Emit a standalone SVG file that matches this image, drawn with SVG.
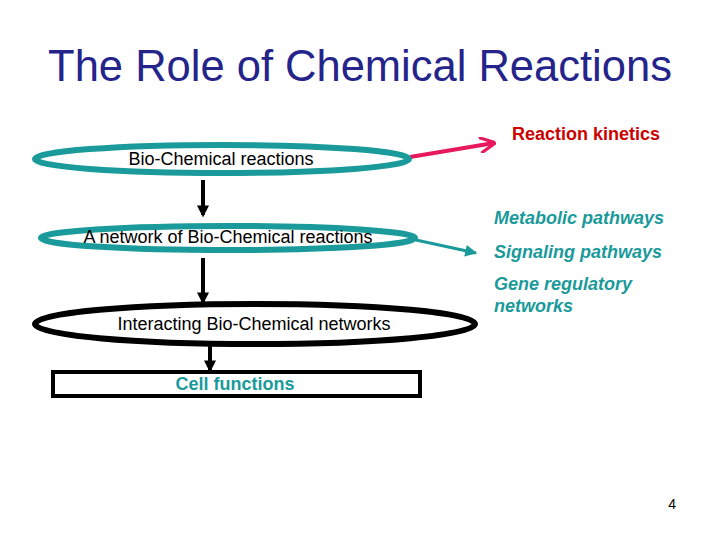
<svg xmlns="http://www.w3.org/2000/svg" width="720" height="540" viewBox="0 0 720 540">
<style>
text{font-family:"Liberation Sans",Arial,sans-serif}
.t{fill:#000;font-size:18px}
.it{fill:#1a9a9a;font-size:18px;font-style:italic;font-weight:bold}
.teal{fill:none;stroke:#1a9a9a;stroke-width:6}
.blk{fill:none;stroke:#000;stroke-width:6}
</style>
<defs>
<marker id="ab" viewBox="0 0 10 10" refX="8" refY="5" markerWidth="3" markerHeight="3" orient="auto" markerUnits="strokeWidth"><path d="M0,0L10,5L0,10z" fill="#000"/></marker>
<marker id="ap" viewBox="0 0 10 10" refX="9" refY="5" markerWidth="4" markerHeight="4" orient="auto" markerUnits="strokeWidth"><path d="M0,0L10,5L0,10" fill="none" stroke="#e8185c" stroke-width="2"/></marker>
<marker id="at" viewBox="0 0 10 10" refX="9" refY="5" markerWidth="4" markerHeight="4" orient="auto" markerUnits="strokeWidth"><path d="M0,0L10,5L0,10z" fill="#1a9a9a"/></marker>
</defs>
<text x="360" y="81" text-anchor="middle" font-size="43.5" fill="#24248a">The Role of Chemical Reactions</text>
<g id="connectors">
<line x1="203" y1="180" x2="203" y2="215" stroke="#000" stroke-width="4" marker-end="url(#ab)"/>
<line x1="203" y1="258" x2="203" y2="302" stroke="#000" stroke-width="4" marker-end="url(#ab)"/>
<line x1="210" y1="345" x2="210" y2="370" stroke="#000" stroke-width="4" marker-end="url(#ab)"/>
<line x1="410" y1="157" x2="494" y2="143" stroke="#e8185c" stroke-width="4" marker-end="url(#ap)"/>
<line x1="416" y1="240" x2="476" y2="253" stroke="#1a9a9a" stroke-width="3" marker-end="url(#at)"/>
</g>
<g id="n1"><ellipse cx="222" cy="159" rx="187" ry="14" class="teal"/><text x="221" y="165" text-anchor="middle" class="t">Bio-Chemical reactions</text></g>
<g id="n2"><ellipse cx="228" cy="238" rx="187" ry="12" class="teal"/><text x="228" y="243" text-anchor="middle" class="t">A network of Bio-Chemical reactions</text></g>
<g id="n3"><ellipse cx="255" cy="324" rx="220" ry="20" class="blk"/><text x="254" y="330" text-anchor="middle" class="t">Interacting Bio-Chemical networks</text></g>
<g id="n4"><rect x="53" y="372" width="367" height="24" fill="none" stroke="#000" stroke-width="4"/><text x="235" y="390" text-anchor="middle" font-size="18" font-weight="bold" fill="#1a9a9a">Cell functions</text></g>
<g id="n5"><text x="512" y="140" font-size="18" font-weight="bold" fill="#cc0000">Reaction kinetics</text></g>
<g id="n6"><text x="494" y="224" class="it">Metabolic pathways</text></g>
<g id="n7"><text x="494" y="258" class="it">Signaling pathways</text></g>
<g id="n8"><text x="494" y="290" class="it">Gene regulatory</text><text x="494" y="312" class="it">networks</text></g>
<text x="676" y="509" text-anchor="end" font-size="14" fill="#000">4</text>
</svg>
